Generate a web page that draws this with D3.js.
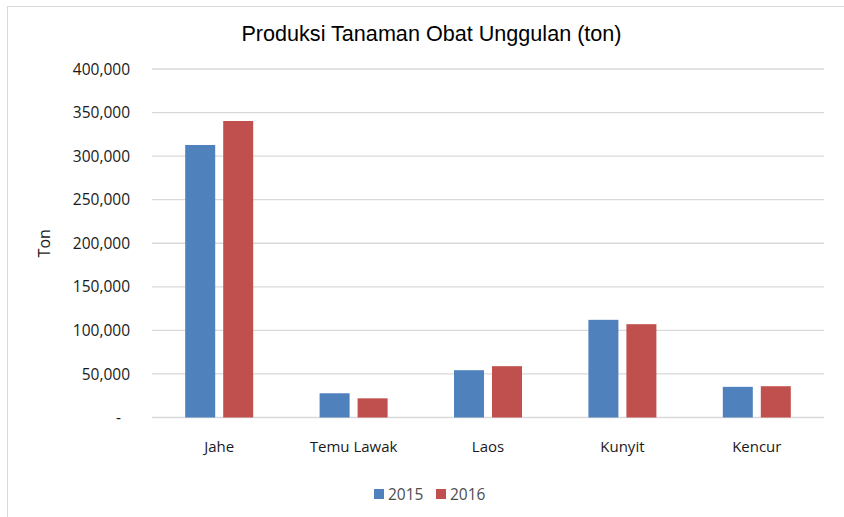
<!DOCTYPE html>
<head>
    <meta charset="utf-8">
    <script src="https://d3js.org/d3.v7.min.js"></script>
    <style>
        body {
            margin: 0;
            background: #fff;
        }
        .tick-label, .cat-label, .legend text, .y-title {
            font-family: "Open Sans", "Noto Sans", sans-serif;
            font-size: 15.5px;
            fill: #1a1a1a;
        }
        .cat-label {
            font-size: 15px;
        }
        .y-title {
            font-size: 16px;
        }
        .legend text {
            fill: #4d4d4d;
        }
        .title {
            font-family: "Liberation Sans", Arial, sans-serif;
            font-size: 21.6px;
            fill: #000;
        }
        .grid line {
            stroke: #d9d9d9;
            stroke-width: 1.3px;
        }
    </style>
</head>

<body>
<div id="vis"></div>

<script>
    var categories = ["Jahe", "Temu Lawak", "Laos", "Kunyit", "Kencur"];
    var series = ["2015", "2016"];
    var values2015 = [312800, 27800, 54300, 112100, 35200];
    var values2016 = [340300, 22000, 58900, 107100, 35900];
    var yTicks = [0, 50000, 100000, 150000, 200000, 250000, 300000, 350000, 400000];
    var colours = ["#4f81bd", "#c0504d"];

    var width = 844, height = 517;
    var margin = {top: 69, right: 20, bottom: 100, left: 152};
    var plotW = 824 - margin.left,
        plotH = 417.5 - margin.top;

    var svg = d3.select("#vis")
        .append("svg")
        .attr("width", width)
        .attr("height", height);

    // outer chart border (cut off on right and bottom)
    svg.append("rect")
        .attr("x", 7.5)
        .attr("y", 6.5)
        .attr("width", width + 10)
        .attr("height", height + 10)
        .attr("fill", "none")
        .attr("stroke", "#d9d9d9")
        .attr("stroke-width", 1);

    svg.append("text")
        .attr("class", "title")
        .attr("x", 431.5)
        .attr("y", 41)
        .attr("text-anchor", "middle")
        .text("Produksi Tanaman Obat Unggulan (ton)");

    var g = svg.append("g")
        .attr("transform", "translate(" + margin.left + "," + margin.top + ")");

    var x0 = d3.scaleBand()
        .domain(categories)
        .range([0, plotW]);

    var x1 = d3.scaleBand()
        .domain(series)
        .range([x0.bandwidth() / 2 - 34, x0.bandwidth() / 2 + 34])
        .paddingInner(8 / 38);

    var y = d3.scaleLinear()
        .domain([0, 400000])
        .range([plotH, 0]);

    // grid lines
    g.append("g")
        .attr("class", "grid")
        .selectAll("line")
        .data(yTicks)
        .enter()
        .append("line")
        .attr("x1", 0)
        .attr("x2", plotW)
        .attr("y1", function(d) { return y(d); })
        .attr("y2", function(d) { return y(d); });

    // y tick labels
    var fmt = d3.format(",");
    g.append("g")
        .selectAll("text")
        .data(yTicks)
        .enter()
        .append("text")
        .attr("class", "tick-label")
        .attr("x", -22)
        .attr("y", function(d) { return y(d); })
        .attr("dy", "0.36em")
        .attr("text-anchor", "end")
        .text(function(d) { return d === 0 ? "-" : fmt(d); })
        .attr("dx", function(d) { return d === 0 ? -9 : 0; });

    svg.append("text")
        .attr("class", "y-title")
        .attr("transform", "translate(50," + (margin.top + plotH / 2) + ") rotate(-90)")
        .attr("text-anchor", "middle")
        .text("Ton");

    // bars
    var data = categories.map(function(c, i) {
        return {cat: c, vals: [
            {s: series[0], v: values2015[i]},
            {s: series[1], v: values2016[i]}
        ]};
    });

    var groups = g.selectAll(".cat")
        .data(data)
        .enter()
        .append("g")
        .attr("class", "cat")
        .attr("transform", function(d) { return "translate(" + x0(d.cat) + ",0)"; });

    groups.selectAll("rect")
        .data(function(d) { return d.vals; })
        .enter()
        .append("rect")
        .attr("x", function(d) { return x1(d.s); })
        .attr("width", x1.bandwidth())
        .attr("y", function(d) { return y(d.v); })
        .attr("height", function(d) { return plotH - y(d.v); })
        .attr("fill", function(d, i) { return colours[i]; });

    // category labels
    g.selectAll(".cat-label")
        .data(categories)
        .enter()
        .append("text")
        .attr("class", "cat-label")
        .attr("x", function(d) { return x0(d) + x0.bandwidth() / 2; })
        .attr("y", plotH + 34)
        .attr("text-anchor", "middle")
        .text(function(d) { return d; });

    // legend
    var legend = svg.append("g")
        .attr("class", "legend")
        .selectAll("g")
        .data(series)
        .enter()
        .append("g")
        .attr("transform", function(d, i) { return "translate(" + (374 + i * 62) + ",489)"; });

    legend.append("rect")
        .attr("width", 10)
        .attr("height", 10)
        .attr("fill", function(d, i) { return colours[i]; });

    legend.append("text")
        .attr("x", 14)
        .attr("y", 10.5)
        .text(function(d) { return d; });
</script>
</body>
